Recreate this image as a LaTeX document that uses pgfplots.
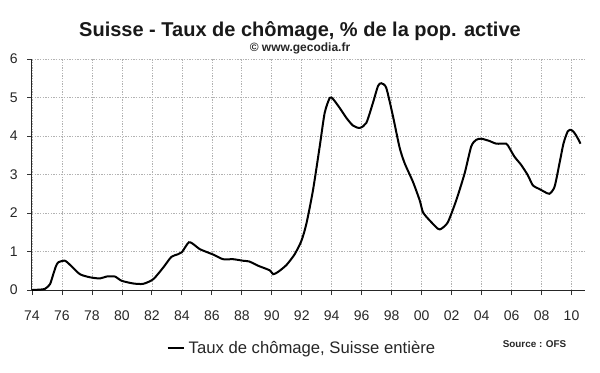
\documentclass[border=0pt]{standalone}
\usepackage{pgfplots}
\pgfplotsset{compat=1.18}
\usepackage{fontspec}
\setmainfont{Liberation Sans}
\begin{document}
\begin{tikzpicture}
\path[use as bounding box] (0,0) rectangle (450pt,279pt);
\begin{axis}[
  at={(24pt,61.5pt)}, anchor=south west,
  scale only axis, width=414.5pt, height=173.25pt,
  xmin=1974, xmax=2010.88, ymin=0, ymax=6,
  axis x line*=bottom, axis y line*=left,
  axis line style={line width=0.75pt, black!85, -},
  xtick={1974,1976,...,2010},
  xticklabels={74,76,78,80,82,84,86,88,90,92,94,96,98,00,02,04,06,08,10},
  ytick={0,1,...,6},
  tick align=outside, major tick length=3.75pt,
  tick style={line width=0.6pt, black!80},
  grid=major,
  grid style={line width=0.5pt, gray!60, dash pattern=on 1pt off 1pt},
  /pgf/number format/assume math mode=true,
  tick label style={font=\fontsize{10.5}{12}\selectfont, text=black!85},
  xticklabel style={yshift=-8pt},
  yticklabel style={xshift=-3.5pt},
  legend style={at={(0.2437,-0.251)}, anchor=west, draw=none, fill=none,
    inner sep=0pt, outer sep=0pt, font=\fontsize{12.5}{14}\selectfont,
    nodes={inner sep=0pt, text=black!85}},
  legend image code/.code={\draw[#1] (0pt,0pt) -- (12.5pt,0pt); \path (15pt,0pt);},
]
\addplot[black, line width=1.5pt, smooth, tension=0.4] coordinates {
(1974.0,0) (1974.5,0.01) (1974.87,0.03) (1975.2,0.15) (1975.42,0.41)
(1975.6,0.62) (1975.76,0.72) (1976.2,0.76) (1976.6,0.63) (1977.2,0.41)
(1977.87,0.33) (1978.53,0.30) (1978.98,0.35) (1979.53,0.35) (1979.98,0.24)
(1980.75,0.17) (1981.42,0.16) (1982.09,0.28) (1982.75,0.58) (1983.3,0.86)
(1983.75,0.93) (1984.0,0.98) (1984.47,1.24) (1984.87,1.16) (1985.2,1.06)
(1986.09,0.92) (1986.75,0.80) (1987.42,0.80) (1988.09,0.76) (1988.5,0.74)
(1989.09,0.63) (1989.87,0.51) (1990.09,0.41) (1990.42,0.47) (1990.98,0.65)
(1991.53,0.93) (1991.98,1.28) (1992.31,1.72) (1992.75,2.59) (1993.2,3.73)
(1993.53,4.6) (1993.87,4.99) (1994.09,4.96) (1994.53,4.73) (1994.98,4.47)
(1995.42,4.27) (1995.87,4.21) (1996.31,4.34) (1996.75,4.86) (1997.09,5.30)
(1997.31,5.37) (1997.64,5.25) (1998.09,4.51) (1998.53,3.70) (1998.87,3.29)
(1999.42,2.81) (1999.87,2.33) (2000.09,2.02) (2000.53,1.81) (2001.09,1.59)
(2001.31,1.59) (2001.75,1.76) (2002.31,2.33) (2002.87,3.03) (2003.31,3.73)
(2003.64,3.90) (2003.98,3.93) (2004.53,3.87) (2004.98,3.80) (2005.64,3.80)
(2005.87,3.68) (2006.2,3.46) (2006.64,3.25) (2007.09,2.98) (2007.42,2.72)
(2007.87,2.62) (2008.2,2.55) (2008.53,2.50) (2008.87,2.68) (2009.2,3.29)
(2009.47,3.81) (2009.75,4.12) (2009.98,4.16) (2010.2,4.08) (2010.42,3.94)
(2010.6,3.80)
};
\addlegendentry{Taux de chômage, Suisse entière}
\end{axis}
\node[font=\fontsize{15}{18}\selectfont\bfseries, text=black!90] at (225pt,255.75pt) {Suisse - Taux de chômage, \% de la pop. active};
\node[font=\fontsize{9}{11}\selectfont\bfseries, text=black!85] at (225pt,243pt) {© www.gecodia.fr};
\node[font=\fontsize{7.4}{9}\selectfont\bfseries, text=black!85] at (400.9pt,21.2pt) {Source : OFS};
\end{tikzpicture}
\end{document}
